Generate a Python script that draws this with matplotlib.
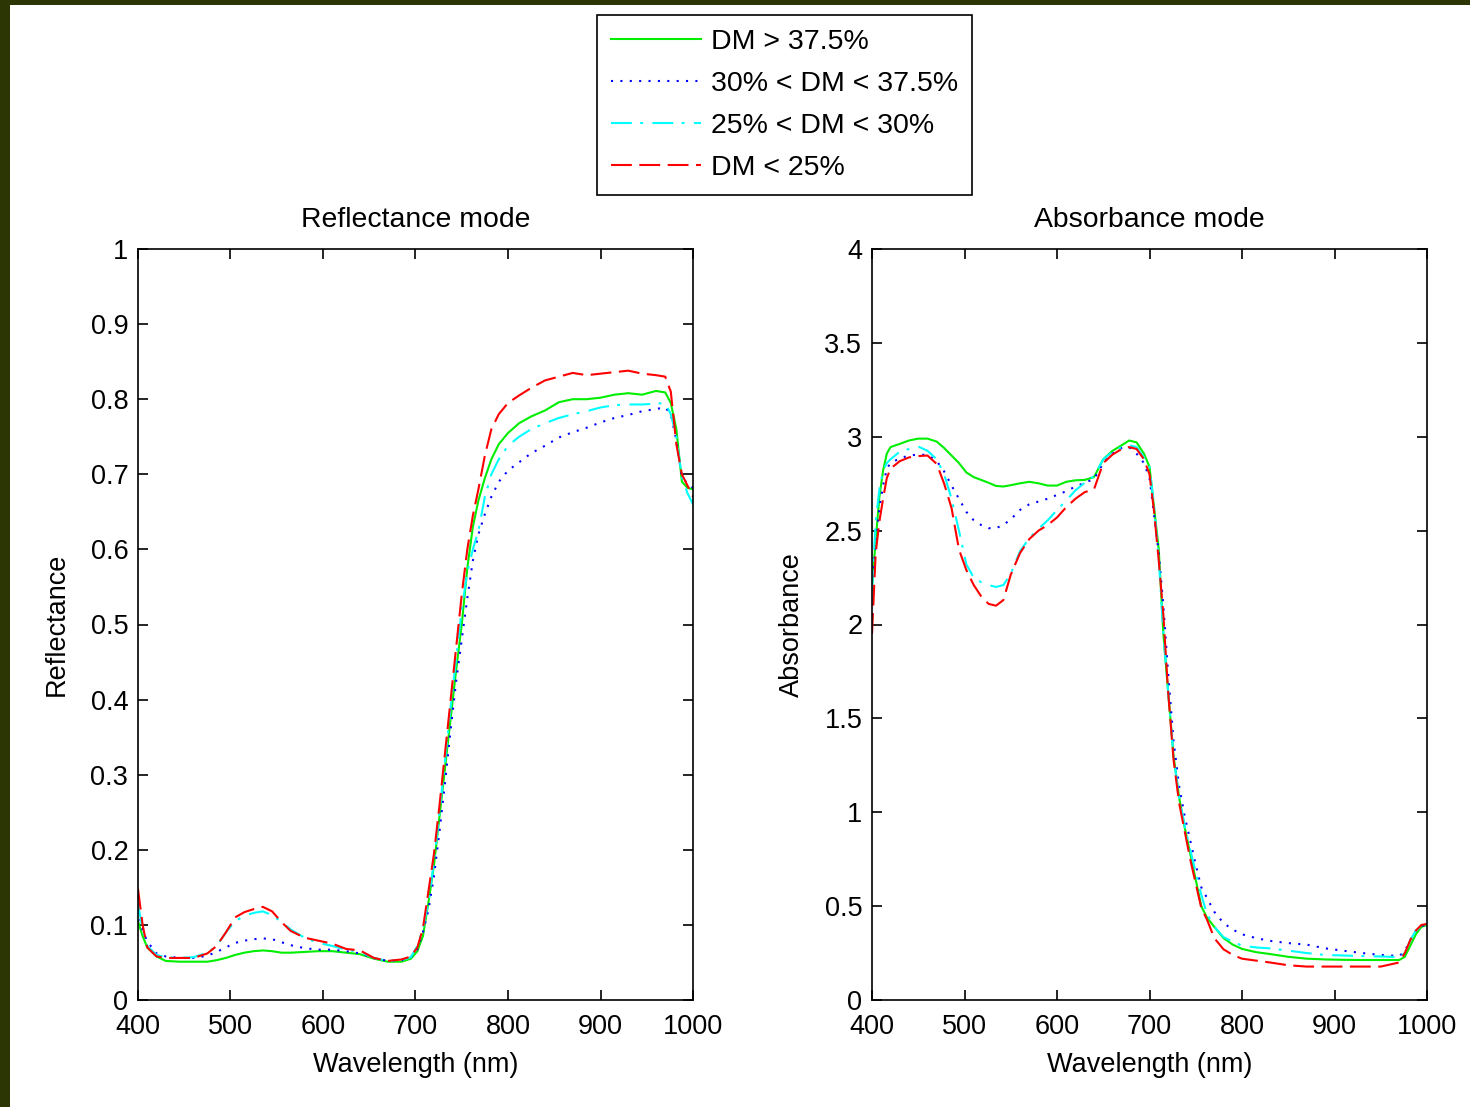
import matplotlib
matplotlib.use("Agg")
import matplotlib.pyplot as plt
from matplotlib.patches import Rectangle
from matplotlib.lines import Line2D

plt.rcParams['font.family'] = ['Liberation Sans', 'DejaVu Sans']
plt.rcParams['font.size'] = 19.5

# ---- reflectance data ----
wl_r = [400, 405, 410, 420, 430, 445, 460, 475, 485, 495, 505, 515, 525, 535, 545,
        555, 565, 580, 595, 610, 625, 640, 655, 670, 685, 695, 702, 708, 714, 720,
        726, 732, 738, 744, 750, 756, 762, 768, 775, 782, 790, 800, 812, 825, 840,
        855, 870, 885, 900, 915, 930, 945, 960, 970, 976, 982, 988, 994, 1000]

refl_high = [0.105, 0.085, 0.07, 0.058, 0.052, 0.051, 0.051, 0.051, 0.053, 0.056, 0.060,
             0.063, 0.065, 0.066, 0.065, 0.063, 0.063, 0.064, 0.065, 0.065, 0.063, 0.061,
             0.055, 0.051, 0.051, 0.055, 0.065, 0.085, 0.13, 0.18, 0.245, 0.31, 0.375,
             0.44, 0.50, 0.575, 0.63, 0.665, 0.695, 0.72, 0.74, 0.755, 0.768, 0.777,
             0.785, 0.796, 0.80, 0.80, 0.802, 0.806, 0.808, 0.806, 0.811, 0.809, 0.795,
             0.76, 0.69, 0.682, 0.68]
refl_mid = [0.12, 0.093, 0.078, 0.062, 0.058, 0.056, 0.056, 0.059, 0.064, 0.070, 0.076,
            0.079, 0.081, 0.082, 0.081, 0.077, 0.073, 0.069, 0.067, 0.067, 0.065, 0.062,
            0.056, 0.052, 0.053, 0.057, 0.068, 0.09, 0.12, 0.165, 0.225, 0.29, 0.36,
            0.425, 0.48, 0.535, 0.585, 0.62, 0.647, 0.67, 0.69, 0.705, 0.716, 0.728,
            0.738, 0.749, 0.756, 0.762, 0.769, 0.775, 0.779, 0.784, 0.787, 0.789, 0.78,
            0.745, 0.696, 0.688, 0.682]
refl_lowmid = [0.128, 0.093, 0.072, 0.060, 0.057, 0.056, 0.057, 0.063, 0.072, 0.09, 0.105,
               0.112, 0.116, 0.118, 0.113, 0.104, 0.094, 0.083, 0.076, 0.072, 0.067, 0.064,
               0.056, 0.052, 0.053, 0.057, 0.072, 0.095, 0.13, 0.185, 0.25, 0.32, 0.39,
               0.455, 0.52, 0.57, 0.60, 0.625, 0.67, 0.70, 0.72, 0.738, 0.75, 0.76,
               0.768, 0.775, 0.78, 0.784, 0.789, 0.792, 0.793, 0.793, 0.794, 0.795, 0.78,
               0.75, 0.696, 0.675, 0.66]
refl_low = [0.148, 0.10, 0.07, 0.058, 0.056, 0.056, 0.056, 0.062, 0.072, 0.09, 0.11,
            0.117, 0.121, 0.124, 0.118, 0.104, 0.092, 0.083, 0.079, 0.075, 0.068, 0.066,
            0.056, 0.052, 0.054, 0.058, 0.07, 0.095, 0.145, 0.195, 0.26, 0.33, 0.40,
            0.47, 0.54, 0.60, 0.645, 0.68, 0.725, 0.76, 0.78, 0.795, 0.805, 0.815,
            0.825, 0.83, 0.835, 0.832, 0.834, 0.836, 0.838, 0.834, 0.832, 0.83, 0.81,
            0.74, 0.70, 0.685, 0.67]

# ---- absorbance data ----
wl_a = [400, 404, 408, 412, 416, 420, 430, 440, 450, 460, 470, 478, 486, 494, 502, 510,
        518, 526, 534, 542, 550, 560, 570, 580, 590, 600, 610, 620, 630, 640, 650, 660,
        670, 678, 686, 694, 700, 705, 710, 715, 720, 726, 732, 738, 744, 750, 756, 762,
        770, 780, 790, 800, 815, 830, 850, 870, 890, 910, 930, 950, 970, 976, 982, 988,
        994, 1000]

abs_high = [2.2, 2.45, 2.68, 2.82, 2.91, 2.945, 2.962, 2.98, 2.99, 2.99, 2.974, 2.94, 2.90,
            2.86, 2.81, 2.785, 2.77, 2.755, 2.738, 2.735, 2.742, 2.752, 2.76, 2.752, 2.74,
            2.74, 2.76, 2.768, 2.77, 2.785, 2.88, 2.925, 2.955, 2.98, 2.97, 2.91, 2.84,
            2.62, 2.40, 1.95, 1.65, 1.30, 1.08, 0.92, 0.78, 0.64, 0.50, 0.44, 0.39, 0.33,
            0.295, 0.272, 0.255, 0.245, 0.23, 0.22, 0.216, 0.214, 0.213, 0.213, 0.213,
            0.23, 0.29, 0.35, 0.39, 0.40]
abs_mid = [2.2, 2.42, 2.62, 2.74, 2.83, 2.86, 2.885, 2.90, 2.905, 2.903, 2.87, 2.815, 2.74,
           2.67, 2.60, 2.555, 2.53, 2.513, 2.513, 2.53, 2.56, 2.61, 2.64, 2.655, 2.67,
           2.69, 2.71, 2.735, 2.755, 2.775, 2.86, 2.91, 2.94, 2.945, 2.91, 2.86, 2.78,
           2.58, 2.38, 2.10, 1.75, 1.38, 1.14, 0.98, 0.85, 0.72, 0.60, 0.545, 0.47, 0.41,
           0.375, 0.35, 0.33, 0.315, 0.303, 0.295, 0.275, 0.262, 0.25, 0.24, 0.234,
           0.26, 0.32, 0.37, 0.395, 0.40]
abs_lowmid = [2.18, 2.55, 2.72, 2.82, 2.86, 2.88, 2.92, 2.935, 2.948, 2.925, 2.88, 2.80,
              2.67, 2.50, 2.32, 2.25, 2.225, 2.21, 2.20, 2.21, 2.27, 2.39, 2.46, 2.51,
              2.555, 2.61, 2.66, 2.715, 2.755, 2.79, 2.88, 2.92, 2.945, 2.955, 2.945, 2.89,
              2.84, 2.63, 2.35, 1.95, 1.65, 1.30, 1.08, 0.93, 0.80, 0.68, 0.56, 0.46, 0.39,
              0.335, 0.31, 0.29, 0.28, 0.275, 0.263, 0.25, 0.24, 0.237, 0.234, 0.232, 0.228,
              0.25, 0.32, 0.37, 0.39, 0.40]
abs_low = [1.95, 2.38, 2.55, 2.67, 2.78, 2.83, 2.87, 2.89, 2.897, 2.90, 2.855, 2.75, 2.62,
           2.40, 2.29, 2.21, 2.15, 2.11, 2.10, 2.13, 2.265, 2.38, 2.455, 2.50, 2.53, 2.57,
           2.625, 2.67, 2.705, 2.72, 2.86, 2.905, 2.935, 2.945, 2.935, 2.88, 2.80, 2.60,
           2.34, 2.05, 1.65, 1.28, 1.05, 0.90, 0.75, 0.62, 0.49, 0.43, 0.33, 0.27, 0.24,
           0.22, 0.21, 0.20, 0.185, 0.178, 0.178, 0.178, 0.178, 0.178, 0.20, 0.25, 0.32,
           0.37, 0.40, 0.405]

labels = ['DM > 37.5%', '30% < DM < 37.5%', '25% < DM < 30%', 'DM < 25%']
colors = ['#00ee00', '#0000ff', '#00ffff', '#ff0000']
styles = ['-', (0, (1, 3.5)), (0, (10, 4, 1.4, 4.5)), (0, (10, 3.6))]

LW = 1.5

fig = plt.figure(figsize=(14.7, 11.07), dpi=100)
fig.patch.set_facecolor('#2c3604')
fig.add_artist(Rectangle((10 / 1470, 0), 1 - 10 / 1470, 1 - 5 / 1107,
                         transform=fig.transFigure, facecolor='white',
                         edgecolor='none', zorder=0))

ax1 = fig.add_axes([138 / 1470, 107 / 1107, 555 / 1470, 751 / 1107])
ax2 = fig.add_axes([872 / 1470, 107 / 1107, 555 / 1470, 751 / 1107])

refl = [refl_high, refl_mid, refl_lowmid, refl_low]
absb = [abs_high, abs_mid, abs_lowmid, abs_low]
for vals, c, ls in zip(refl, colors, styles):
    ax1.plot(wl_r, vals, color=c, linestyle=ls, lw=LW)
for vals, c, ls in zip(absb, colors, styles):
    ax2.plot(wl_a, vals, color=c, linestyle=ls, lw=LW)

ax1.set_xlim(400, 1000)
ax1.set_ylim(0, 1)
ax1.set_yticks([i / 10 for i in range(11)])
ax1.set_yticklabels(['0', '0.1', '0.2', '0.3', '0.4', '0.5', '0.6', '0.7', '0.8', '0.9', '1'])
ax1.set_title('Reflectance mode', pad=16, fontsize=20.4)
ax1.set_ylabel('Reflectance', labelpad=15)

ax2.set_xlim(400, 1000)
ax2.set_ylim(0, 4)
ax2.set_yticks([0, 0.5, 1, 1.5, 2, 2.5, 3, 3.5, 4])
ax2.set_yticklabels(['0', '0.5', '1', '1.5', '2', '2.5', '3', '3.5', '4'])
ax2.set_title('Absorbance mode', pad=16, fontsize=20.4)
ax2.set_ylabel('Absorbance', labelpad=14)

for ax in (ax1, ax2):
    ax.set_xticks(range(400, 1001, 100))
    ax.set_xlabel('Wavelength (nm)', labelpad=9)
    ax.tick_params(direction='in', top=True, right=True, length=7, width=1.2)
    ax.tick_params(axis='x', pad=10)
    ax.tick_params(axis='y', pad=7)
    for s in ax.spines.values():
        s.set_linewidth(1.2)

handles = [Line2D([], [], color=c, linestyle=ls, lw=LW) for c, ls in zip(colors, styles)]
leg = fig.legend(handles, labels, loc='upper left', fontsize=20.5,
                 bbox_to_anchor=(597 / 1470, 1 - 15 / 1107),
                 handlelength=3.15, handletextpad=0.35, labelspacing=0.56,
                 borderpad=0.5, borderaxespad=0, fancybox=False, framealpha=1,
                 edgecolor='black')
leg.get_frame().set_linewidth(1.2)

fig.savefig('out.png', dpi=100, facecolor=fig.get_facecolor())
